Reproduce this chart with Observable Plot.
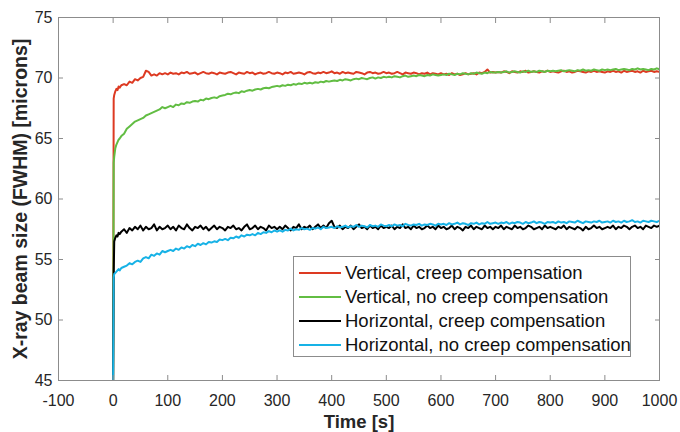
<!DOCTYPE html>
<html>
<head>
<meta charset="utf-8">
<script src="https://cdn.jsdelivr.net/npm/d3@7"></script>
<script src="https://cdn.jsdelivr.net/npm/@observablehq/plot@0.6"></script>
<style>
  body { margin: 0; background: white; }
  #wrap { position: relative; width: 680px; height: 432px; font-family: "Liberation Sans", Arial, sans-serif; }
  #legend { position: absolute; left: 293px; top: 256px; width: 338px; height: 101px; box-sizing: border-box;
    border: 1px solid #8c8c8c; background: white; }
  .row { position: absolute; left: 0; height: 24px; display: flex; align-items: center; }
  .sw { display: inline-block; width: 42px; height: 2px; margin-left: 5px; margin-right: 4px; }
  .lbl { font-size: 18.5px; color: #111; white-space: nowrap; }
</style>
</head>
<body>
<div id="wrap"></div>
<script>
const seriesNames = [
  "Vertical, creep compensation",
  "Vertical, no creep compensation",
  "Horizontal, creep compensation",
  "Horizontal, no creep compensation"
];
const seriesColors = ["#dd3a22", "#62bd43", "#000000", "#17b2e6"];
const xTicks = [-100, 0, 100, 200, 300, 400, 500, 600, 700, 800, 900, 1000];
const yTicks = [45, 50, 55, 60, 65, 70, 75];
const xLabel = "Time [s]";
const yLabel = "X-ray beam size (FWHM) [microns]";

const time = [
  0,1,2,4,6,8,10,12,15,
  20,25,30,35,40,45,50,55,60,65,70,75,80,85,90,95,100,
  105,110,115,120,125,130,135,140,145,150,155,160,165,170,175,180,185,190,195,200,
  205,210,215,220,225,230,235,240,245,250,255,260,265,270,275,280,285,290,295,300,
  305,310,315,320,325,330,335,340,345,350,355,360,365,370,375,380,385,390,395,400,
  405,410,415,420,425,430,435,440,445,450,455,460,465,470,475,480,485,490,495,500,
  505,510,515,520,525,530,535,540,545,550,555,560,565,570,575,580,585,590,595,600,
  605,610,615,620,625,630,635,640,645,650,655,660,665,670,675,680,685,690,695,700,
  705,710,715,720,725,730,735,740,745,750,755,760,765,770,775,780,785,790,795,800,
  805,810,815,820,825,830,835,840,845,850,855,860,865,870,875,880,885,890,895,900,
  905,910,915,920,925,930,935,940,945,950,955,960,965,970,975,980,985,990,995,1000
];

const verticalCreep = [
  45,68.3,68.6,68.9,69.1,69.0,69.3,69.2,69.4,
  69.5,69.4,69.7,69.6,69.9,69.8,70.0,70.1,70.6,70.5,70.2,70.3,70.2,70.4,70.3,70.4,70.3,
  70.45,70.35,70.4,70.3,70.45,70.4,70.5,70.35,70.4,70.45,70.3,70.4,70.5,70.4,70.35,70.45,70.4,70.3,70.45,70.4,
  70.35,70.45,70.5,70.4,70.3,70.45,70.4,70.35,70.5,70.4,70.45,70.3,70.4,70.45,70.35,70.4,70.5,70.4,70.35,70.45,
  70.4,70.3,70.45,70.4,70.5,70.35,70.4,70.45,70.4,70.3,70.45,70.5,70.4,70.35,70.45,70.4,70.5,70.4,70.45,70.55,
  70.4,70.45,70.35,70.5,70.4,70.45,70.4,70.35,70.5,70.45,70.4,70.3,70.45,70.5,70.4,70.45,70.35,70.4,70.5,70.4,
  70.45,70.35,70.4,70.5,70.4,70.3,70.45,70.4,70.35,70.45,70.4,70.3,70.4,70.35,70.45,70.3,70.4,70.35,70.3,70.4,
  70.3,70.35,70.25,70.4,70.3,70.35,70.25,70.3,70.4,70.3,70.35,70.4,70.3,70.45,70.4,70.5,70.7,70.45,70.5,70.45,
  70.5,70.45,70.55,70.5,70.4,70.55,70.5,70.45,70.55,70.5,70.6,70.45,70.5,70.55,70.5,70.45,70.55,70.5,70.6,70.5,
  70.55,70.5,70.45,70.55,70.6,70.5,70.55,70.45,70.5,70.6,70.55,70.5,70.45,70.55,70.5,70.6,70.5,70.55,70.5,70.45,
  70.55,70.5,70.6,70.5,70.55,70.45,70.6,70.5,70.55,70.6,70.5,70.55,70.45,70.6,70.5,70.55,70.6,70.5,70.55,70.5
];

const verticalNoCreep = [
  45,63.0,63.5,64.2,64.5,64.7,64.9,65.0,65.2,
  65.4,65.8,66.0,66.2,66.4,66.5,66.6,66.7,66.9,67.0,67.1,67.2,67.3,67.4,67.6,67.5,67.6,
  67.7,67.6,67.8,67.75,67.9,67.85,68.0,67.95,68.05,68.1,68.05,68.2,68.15,68.3,68.25,68.35,68.4,68.35,68.5,68.55,
  68.6,68.7,68.65,68.75,68.8,68.75,68.9,68.85,68.95,69.0,68.95,69.05,69.1,69.05,69.15,69.2,69.15,69.25,69.3,69.35,
  69.3,69.4,69.35,69.45,69.4,69.5,69.45,69.55,69.5,69.6,69.55,69.6,69.55,69.65,69.6,69.7,69.65,69.75,69.7,69.75,
  69.8,69.75,69.85,69.8,69.9,69.85,69.8,69.9,69.95,69.9,70.0,69.95,69.9,70.0,70.05,69.95,70.05,70.0,70.1,70.05,
  70.1,70.05,70.15,70.1,70.05,70.15,70.2,70.1,70.15,70.2,70.15,70.25,70.2,70.15,70.25,70.2,70.3,70.25,70.2,70.25,
  70.3,70.25,70.35,70.3,70.25,70.35,70.3,70.4,70.35,70.3,70.4,70.35,70.45,70.4,70.35,70.45,70.4,70.5,70.45,70.45,
  70.5,70.45,70.5,70.55,70.45,70.5,70.55,70.5,70.45,70.55,70.5,70.6,70.5,70.55,70.5,70.6,70.55,70.5,70.6,70.55,
  70.6,70.55,70.6,70.65,70.55,70.6,70.65,70.6,70.55,70.65,70.6,70.7,70.6,70.65,70.6,70.7,70.65,70.6,70.7,70.65,
  70.7,70.65,70.7,70.75,70.65,70.7,70.75,70.7,70.65,70.75,70.7,70.8,70.7,70.75,70.7,70.65,70.75,70.7,70.8,70.72
];

const horizontalCreep = [
  45,53.7,56.5,56.8,57.0,56.9,57.2,57.1,57.3,
  57.5,57.2,57.6,57.4,57.7,57.5,57.8,57.4,57.7,57.5,57.6,57.9,57.4,57.7,57.5,57.6,57.8,
  57.5,57.7,57.4,57.8,57.6,57.5,57.9,57.6,57.4,57.7,57.6,57.8,57.5,57.7,57.4,57.6,57.8,57.5,57.7,57.6,
  57.4,57.7,57.6,57.8,57.5,57.6,57.4,57.7,57.9,57.5,57.6,57.8,57.5,57.7,57.6,57.4,57.8,57.6,57.7,57.5,
  57.7,57.5,57.8,57.6,57.4,57.7,57.6,57.9,57.5,57.7,57.6,57.8,57.5,57.7,57.9,57.6,57.8,57.6,58.0,58.2,
  57.7,57.6,57.8,57.5,57.7,57.6,57.8,57.5,57.7,57.9,57.6,57.7,57.5,57.8,57.6,57.7,57.5,57.8,57.6,57.7,
  57.6,57.8,57.5,57.7,57.6,57.9,57.6,57.7,57.5,57.8,57.6,57.7,57.5,57.6,57.8,57.6,57.7,57.5,57.8,57.6,
  57.7,57.5,57.6,57.8,57.5,57.7,57.6,57.4,57.7,57.6,57.8,57.5,57.7,57.6,57.5,57.8,57.6,57.7,57.5,57.7,
  57.6,57.8,57.5,57.7,57.6,57.5,57.8,57.6,57.7,57.5,57.6,57.8,57.7,57.5,57.6,57.7,57.5,57.8,57.6,57.7,
  57.6,57.5,57.7,57.6,57.8,57.5,57.7,57.6,57.5,57.7,57.6,57.4,57.7,57.5,57.6,57.8,57.6,57.7,57.5,57.6,
  57.7,57.6,57.8,57.5,57.7,57.6,57.8,57.7,57.5,57.7,57.8,57.6,57.7,57.5,57.8,57.7,57.6,57.8,57.7,57.8
];

const horizontalNoCreep = [
  45,53.5,53.8,53.9,54.0,54.1,54.2,54.1,54.3,
  54.4,54.5,54.7,54.6,54.8,54.9,54.8,55.1,55.2,55.1,55.4,55.3,55.5,55.4,55.7,55.6,55.7,
  55.8,55.7,55.9,55.8,56.0,55.9,56.1,56.0,56.2,56.1,56.3,56.2,56.35,56.25,56.45,56.4,56.5,56.45,56.65,56.6,
  56.7,56.6,56.8,56.75,56.9,56.8,57.0,56.9,57.05,57.0,57.1,57.0,57.2,57.1,57.25,57.2,57.35,57.25,57.4,57.3,
  57.4,57.3,57.45,57.4,57.55,57.4,57.5,57.45,57.6,57.5,57.55,57.45,57.6,57.55,57.65,57.5,57.7,57.6,57.65,57.7,
  57.6,57.75,57.65,57.7,57.8,57.65,57.75,57.7,57.85,57.7,57.8,57.75,57.65,57.85,57.75,57.8,57.7,57.9,57.8,57.75,
  57.85,57.75,57.9,57.8,57.85,57.75,57.95,57.85,57.8,57.9,57.85,57.95,57.8,57.9,57.85,57.95,57.9,57.8,57.95,57.9,
  57.95,57.85,58.0,57.9,57.95,58.05,57.9,58.0,57.95,57.85,58.0,57.95,58.05,57.9,58.0,57.95,58.1,57.95,58.0,58.05,
  57.95,58.05,58.0,58.1,57.95,58.05,58.0,58.1,58.05,57.95,58.1,58.0,58.05,58.15,58.0,58.1,58.05,57.95,58.1,58.05,
  58.1,58.0,58.15,58.05,58.1,58.0,58.15,58.1,58.05,58.2,58.1,58.0,58.15,58.1,58.05,58.15,58.1,58.2,58.05,58.1,
  58.15,58.05,58.2,58.1,58.15,58.05,58.2,58.1,58.15,58.25,58.1,58.15,58.05,58.2,58.15,58.1,58.2,58.15,58.1,58.2
];

const seriesValues = [verticalCreep, verticalNoCreep, horizontalCreep, horizontalNoCreep];
const data = [];
seriesNames.forEach((name, s) => {
  time.forEach((t, i) => data.push({series: name, t, v: seriesValues[s][i]}));
});

const axisGray = "#8c8c8c";
const textColor = "#262626";
const fmt = d => String(d);

const chart = Plot.plot({
  width: 680,
  height: 432,
  marginLeft: 58,
  marginRight: 21,
  marginTop: 17,
  marginBottom: 52,
  style: {fontFamily: "'Liberation Sans', Arial, sans-serif", fontSize: "16px", color: textColor, background: "white"},
  x: {domain: [-100, 1000], label: null},
  y: {domain: [45, 75], label: null},
  color: {domain: seriesNames, range: seriesColors},
  marks: [
    Plot.line(data, {x: "t", y: "v", z: "series", stroke: "series", strokeWidth: 2, strokeLinejoin: "round", clip: true}),
    Plot.frame({stroke: axisGray}),
    Plot.axisX(xTicks, {anchor: "bottom", tickSize: 0, tickPadding: 14, label: null, fontSize: 16, fill: textColor, tickFormat: fmt}),
    Plot.axisX(xTicks, {anchor: "bottom", tickSize: -5, fill: "none", stroke: axisGray, label: null}),
    Plot.axisX(xTicks, {anchor: "top", tickSize: -5, fill: "none", stroke: axisGray, label: null}),
    Plot.axisY(yTicks, {anchor: "left", tickSize: 0, tickPadding: 6, label: null, fontSize: 16, fill: textColor, tickFormat: fmt}),
    Plot.axisY(yTicks, {anchor: "left", tickSize: -5, fill: "none", stroke: axisGray, label: null}),
    Plot.axisY(yTicks, {anchor: "right", tickSize: -5, fill: "none", stroke: axisGray, label: null}),
    Plot.text([xLabel], {frameAnchor: "bottom", dy: 42, text: d => d, textAnchor: "middle", fontWeight: "bold", fontSize: 18.5, fill: textColor, lineAnchor: "middle"}),
    Plot.text([yLabel], {frameAnchor: "left", dx: -38, rotate: -90, text: d => d, textAnchor: "middle", fontWeight: "bold", fontSize: 19.5, fill: textColor, lineAnchor: "middle"})
  ]
});

const wrap = document.getElementById("wrap");
wrap.appendChild(chart);

const legend = document.createElement("div");
legend.id = "legend";
seriesNames.forEach((name, i) => {
  const row = document.createElement("div");
  row.className = "row";
  row.style.top = (4 + i * 24) + "px";
  const sw = document.createElement("span");
  sw.className = "sw";
  sw.style.background = seriesColors[i];
  const lbl = document.createElement("span");
  lbl.className = "lbl";
  lbl.textContent = name;
  row.appendChild(sw);
  row.appendChild(lbl);
  legend.appendChild(row);
});
wrap.appendChild(legend);
</script>
</body>
</html>
